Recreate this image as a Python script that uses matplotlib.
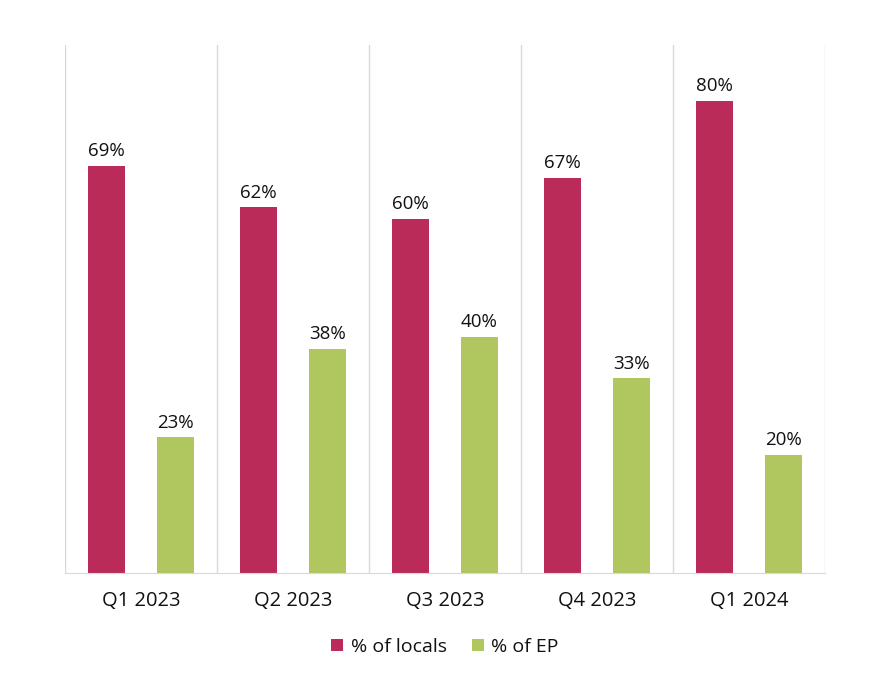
import matplotlib.pyplot as plt
import numpy as np

plt.rcParams['font.family'] = ['Open Sans', 'DejaVu Sans']

quarters = ['Q1 2023', 'Q2 2023', 'Q3 2023', 'Q4 2023', 'Q1 2024']
locals_pct = [69, 62, 60, 67, 80]
ep_pct = [23, 38, 40, 33, 20]

red = '#BB2B5A'
green = '#AFC75E'
txt = '#111111'

fig = plt.figure(figsize=(8.9, 6.75), dpi=100)
ax = fig.add_axes([0.073, 0.151, 0.854, 0.782])

x = np.arange(len(quarters))
w = 0.243
b1 = ax.bar(x - 0.227, locals_pct, w, color=red, label='% of locals')
b2 = ax.bar(x + 0.227, ep_pct, w, color=green, label='% of EP')

for bars, vals in ((b1, locals_pct), (b2, ep_pct)):
    for r, v in zip(bars, vals):
        ax.text(r.get_x() + r.get_width() / 2, v + 1.0, f'{v}%', ha='center', va='bottom',
                fontsize=13.5, color=txt)

# category separators
for s in np.arange(-0.5, len(quarters), 1):
    ax.axvline(s, color='#D9D9D9', lw=1, zorder=0)

ax.set_xlim(-0.5, len(quarters) - 0.5)
ax.set_ylim(0, 89.5)
ax.set_yticks([])
ax.set_xticks(x)
ax.set_xticklabels(quarters, fontsize=14.5, color=txt)
ax.tick_params(axis='x', length=0, pad=13)
for sp in ['top', 'left', 'right']:
    ax.spines[sp].set_visible(False)
ax.spines['bottom'].set_color('#D9D9D9')

ax.legend(loc='upper center', bbox_to_anchor=(0.5, -0.09), ncol=2, frameon=False,
          fontsize=14, handlelength=0.6, handleheight=0.6, handletextpad=0.4, columnspacing=1.3,
          labelcolor=txt)

plt.savefig('out.png', dpi=100)
